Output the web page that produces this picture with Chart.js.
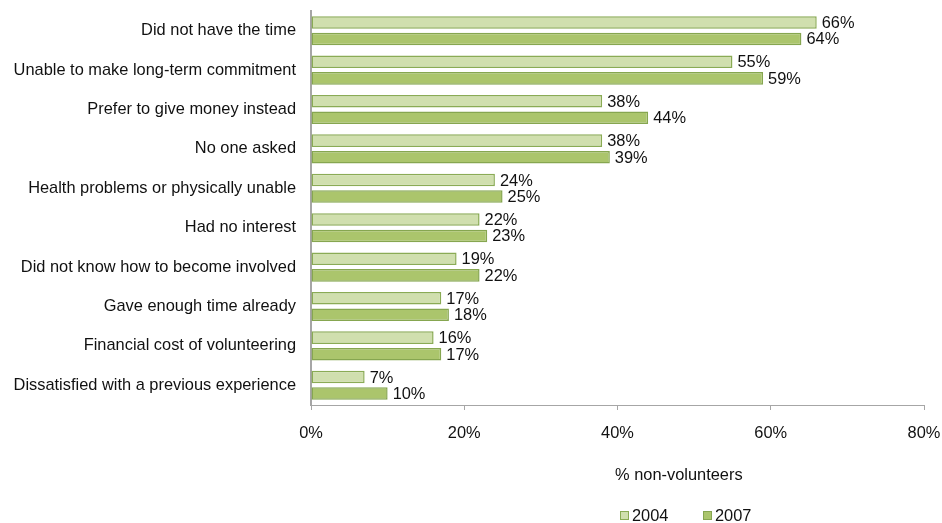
<!DOCTYPE html>
<html>
<head>
<meta charset="utf-8">
<script src="https://cdn.jsdelivr.net/npm/chart.js@4.4.1/dist/chart.umd.min.js"></script>
<style>
  html, body { margin: 0; padding: 0; background: #fff; }
  #wrap { width: 942px; height: 523px; position: relative; }
</style>
</head>
<body>
<div id="wrap"><canvas id="reasons"></canvas></div>
<script>
// ===== DATA =====
const categories = [
  'Did not have the time',
  'Unable to make long-term commitment',
  'Prefer to give money instead',
  'No one asked',
  'Health problems or physically unable',
  'Had no interest',
  'Did not know how to become involved',
  'Gave enough time already',
  'Financial cost of volunteering',
  'Dissatisfied with a previous experience',
];
const values2004 = [66, 55, 38, 38, 24, 22, 19, 17, 16, 7];
const values2007 = [64, 59, 44, 39, 25, 23, 22, 18, 17, 10];
const xTicks = [0, 20, 40, 60, 80];
const axisTitle = '% non-volunteers';

// ===== COLORS =====
const COLORS = {
  light: '#d0dfae',
  lightBorder: '#8aab55',
  dark: '#abc56c',
  darkBorder: '#86a650',
  axis: '#a6a6a6',
  text: '#111111',
};
const FONT = 'Liberation Sans, Arial, sans-serif';
const SIZE = 16.4;

// value labels at the end of each bar
const barLabels = {
  id: 'barLabels',
  afterDatasetsDraw(chart) {
    const { ctx } = chart;
    ctx.save();
    ctx.font = SIZE + 'px ' + FONT;
    ctx.fillStyle = COLORS.text;
    ctx.textBaseline = 'middle';
    ctx.textAlign = 'left';
    chart.data.datasets.forEach((ds, i) => {
      chart.getDatasetMeta(i).data.forEach((bar, j) => {
        ctx.fillText(ds.data[j] + '%', bar.x + 5, bar.y + 1);
      });
    });
    ctx.restore();
  },
};

// axis title and legend below the chart
const footer = {
  id: 'footer',
  afterDraw(chart) {
    const { ctx, chartArea } = chart;
    ctx.save();
    ctx.font = SIZE + 'px ' + FONT;
    ctx.fillStyle = COLORS.text;
    ctx.textBaseline = 'middle';
    ctx.textAlign = 'center';
    const cx = chartArea.left + (chartArea.right - chartArea.left) * 0.6;
    ctx.fillText(axisTitle, cx, 475);

    let x = 620;
    chart.data.datasets.forEach((ds) => {
      ctx.fillStyle = ds.backgroundColor;
      ctx.strokeStyle = ds.borderColor;
      ctx.lineWidth = 1;
      ctx.fillRect(x, 511, 8, 8);
      ctx.strokeRect(x + 0.5, 511.5, 8, 8);
      ctx.fillStyle = COLORS.text;
      ctx.textAlign = 'left';
      ctx.fillText(ds.label, x + 12, 516);
      x += 83;
    });
    ctx.restore();
  },
};

new Chart(document.getElementById('reasons'), {
  type: 'bar',
  data: {
    labels: categories,
    datasets: [
      {
        label: '2004',
        data: values2004,
        backgroundColor: COLORS.light,
        borderColor: COLORS.lightBorder,
        borderWidth: 1.5,
        borderSkipped: false,
        barPercentage: 0.76,
        categoryPercentage: 0.84,
      },
      {
        label: '2007',
        data: values2007,
        backgroundColor: COLORS.dark,
        borderColor: COLORS.darkBorder,
        borderWidth: 1.5,
        borderSkipped: false,
        barPercentage: 0.76,
        categoryPercentage: 0.84,
      },
    ],
  },
  options: {
    indexAxis: 'y',
    responsive: true,
    maintainAspectRatio: false,
    animation: false,
    layout: { padding: { top: 11, right: 18, left: 0, bottom: 0 } },
    plugins: {
      legend: { display: false },
      tooltip: { enabled: false },
    },
    scales: {
      x: {
        min: 0,
        max: 80,
        afterBuildTicks: (scale) => { scale.ticks = xTicks.map((v) => ({ value: v })); },
        afterFit: (scale) => {
          scale.height = 118;
          scale.paddingLeft = 0;
          scale.paddingRight = 0;
        },
        grid: { drawOnChartArea: false, drawTicks: true, tickLength: 5, color: COLORS.axis },
        border: { display: true, color: COLORS.axis, width: 1 },
        ticks: {
          color: COLORS.text,
          padding: 14,
          font: { family: FONT, size: SIZE },
          callback: (v) => v + '%',
        },
      },
      y: {
        afterFit: (scale) => {
          scale.width = 311;
          scale.paddingTop = 0;
          scale.paddingBottom = 0;
        },
        grid: { display: false },
        border: { display: true, color: COLORS.axis, width: 2 },
        ticks: {
          color: COLORS.text,
          padding: 7,
          font: { family: FONT, size: SIZE },
        },
      },
    },
  },
  plugins: [barLabels, footer],
});
</script>
</body>
</html>
